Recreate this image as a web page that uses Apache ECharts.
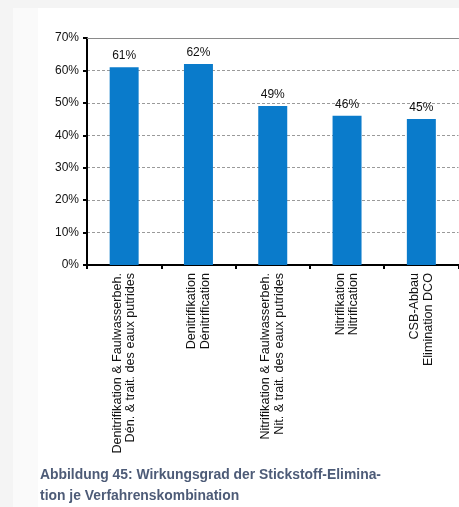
<!DOCTYPE html>
<html>
<head>
<meta charset="utf-8">
<script src="https://cdn.jsdelivr.net/npm/echarts@6/dist/echarts.min.js"></script>
<style>
html,body{margin:0;padding:0;background:#f4f4f4;}
#c{width:459px;height:507px;}
</style>
</head>
<body>
<div id="c"></div>
<script>
const categories = [
  "Denitrifikation & Faulwasserbeh.\nDén. & trait. des eaux putrides",
  "Denitrifikation\nDénitrification",
  "Nitrifikation & Faulwasserbeh.\nNit. & trait. des eaux putrides",
  "Nitrifikation\nNitrification",
  "CSB-Abbau\nElimination DCO"
];
const efficiency = [61, 62, 49, 46, 45];
const yTicks = [0, 10, 20, 30, 40, 50, 60, 70];
const caption = "Abbildung 45: Wirkungsgrad der Stickstoff-Elimina-\ntion je Verfahrenskombination";

const chart = echarts.init(document.getElementById('c'));
const font = 'Liberation Sans, Arial, sans-serif';
chart.setOption({
  animation: false,
  backgroundColor: 'transparent',
  graphic: [
    { type: 'rect', left: 13, top: 8, z: -10, shape: { width: 25, height: 499 }, style: { fill: '#fafafa' } },
    { type: 'rect', left: 38, top: 8, z: -10, shape: { width: 421, height: 499 }, style: { fill: '#ffffff' } }
  ],
  title: {
    text: caption,
    left: 35, top: 460,
    textStyle: { fontFamily: font, fontSize: 13.9, fontWeight: 'bold', color: '#4d5b77', lineHeight: 21 }
  },
  grid: { left: 87, right: 0.5, top: 38, bottom: 242, containLabel: false },
  xAxis: [{
    type: 'category',
    data: categories,
    axisLine: { lineStyle: { color: '#000', width: 2 } },
    axisTick: { show: true, length: 4, lineStyle: { color: '#000', width: 2 } },
    axisLabel: {
      rotate: 90, interval: 0, fontFamily: font, fontSize: 12.6, lineHeight: 13.5,
      color: '#111', margin: 8
    }
  }, {
    type: 'category',
    data: categories,
    position: 'top',
    axisLine: { lineStyle: { color: '#8a8a8a', width: 1 } },
    axisTick: { show: false },
    axisLabel: { show: false }
  }],
  yAxis: {
    type: 'value',
    min: yTicks[0], max: yTicks[yTicks.length - 1], interval: 10,
    axisLine: { show: true, lineStyle: { color: '#000', width: 2 } },
    axisTick: { show: true, length: 4, lineStyle: { color: '#000', width: 2 } },
    axisLabel: { formatter: '{value}%', fontFamily: font, fontSize: 12, color: '#111', margin: 8 },
    splitLine: { show: true, lineStyle: { color: '#9a9a9a', type: [3, 2], width: 1 } }
  },
  series: [{
    type: 'bar',
    data: efficiency,
    barWidth: '39%',
    itemStyle: { color: '#0a7bcb' },
    label: {
      show: true, position: 'top', distance: 5, formatter: '{c}%',
      fontFamily: font, fontSize: 12, color: '#111'
    }
  }]
});
</script>
</body>
</html>
